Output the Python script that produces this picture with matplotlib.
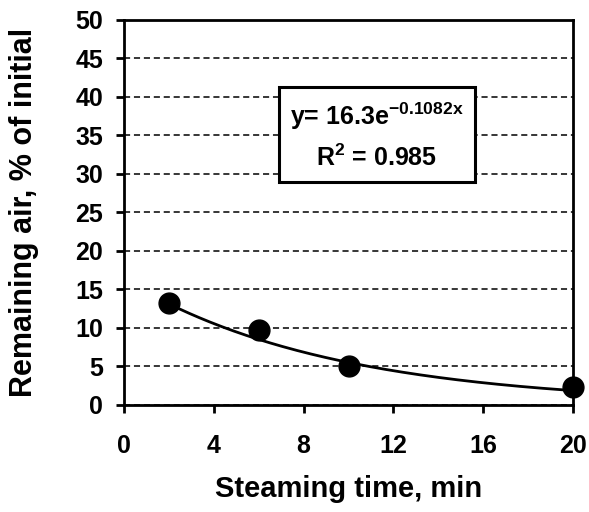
import numpy as np
import matplotlib
matplotlib.use("Agg")
import matplotlib.pyplot as plt

steam_time = [2, 6, 10, 20]
remaining_air = [13.3, 9.7, 5.0, 2.3]
fit_a = 16.3
fit_b = -0.1082
fit_r2 = 0.985

plt.rcParams['font.family'] = ['Liberation Sans', 'DejaVu Sans']
plt.rcParams['font.weight'] = 'bold'
plt.rcParams['mathtext.fontset'] = 'custom'
plt.rcParams['mathtext.rm'] = 'Liberation Sans'
plt.rcParams['mathtext.it'] = 'Liberation Sans'
plt.rcParams['mathtext.bf'] = 'Liberation Sans:bold'

fig = plt.figure(figsize=(5.89, 5.12), dpi=100)
ax = fig.add_axes([0.2105, 0.209, 0.7625, 0.752])

# trendline from the equation shown in the box
xs = np.linspace(min(steam_time), max(steam_time), 200)
ax.plot(xs, fit_a * np.exp(fit_b * xs), color='black', lw=2, zorder=3)
ax.plot(steam_time, remaining_air, 'o', color='black', ms=15, zorder=4,
        clip_on=False)

ax.set_xlim(0, 20)
ax.set_ylim(0, 50)
ax.set_xticks([0, 4, 8, 12, 16, 20])
ax.set_yticks(range(0, 51, 5))
ax.yaxis.grid(True, linestyle=(0, (4, 2.5)), color='black', lw=1.1)
ax.set_axisbelow(True)
for s in ax.spines.values():
    s.set_linewidth(2)
ax.tick_params(direction='out', length=6, width=2, labelsize=18, pad=9)
ax.tick_params(axis='x', pad=15)

ax.set_xlabel('Steaming time, min', fontsize=21, fontweight='bold', labelpad=12)
ax.set_ylabel('Remaining air, % of initial', fontsize=22, fontweight='bold', labelpad=26)

eq = 'y= %.1fe$^{\\mathrm{%.4fx}}$' % (fit_a, fit_b)
r2 = 'R$^{\\mathrm{2}}$ = %.3f' % fit_r2
ax.text(11.25, 35, eq + '\n' + r2,
        ha='center', va='center', fontsize=18, fontweight='bold', linespacing=1.6,
        bbox=dict(boxstyle='square,pad=0.45', fc='white', ec='black', lw=2.2), zorder=5)

fig.savefig('out.png', dpi=100)
